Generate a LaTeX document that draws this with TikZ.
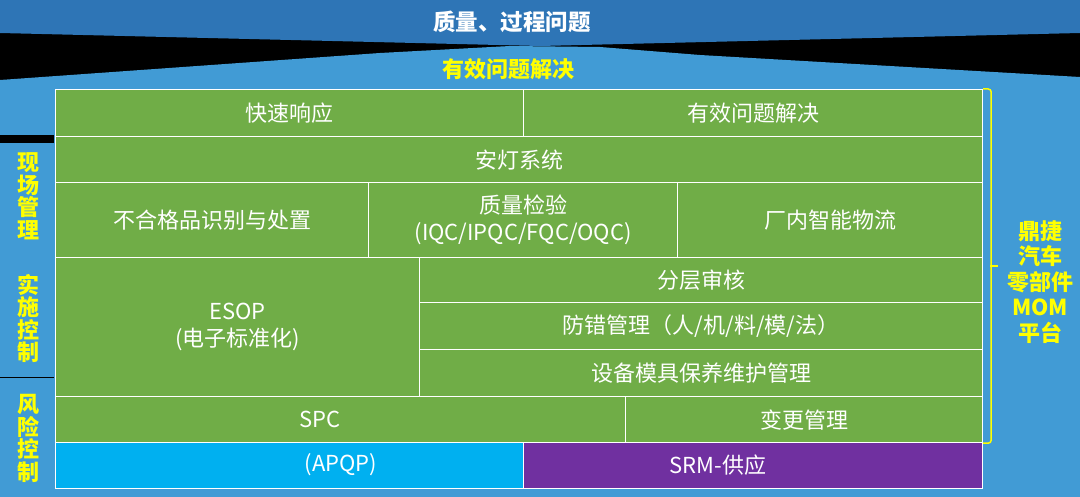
\documentclass[tikz,border=0pt]{standalone}
\usepackage{fontspec}
\setmainfont{Noto Sans CJK SC}
\usepackage{tikz}
\usetikzlibrary{calc}
\definecolor{qblack}{HTML}{000000}
\definecolor{qdark}{HTML}{2E75B6}
\definecolor{qlight}{HTML}{419BD5}
\definecolor{qgreen}{HTML}{70AD47}
\definecolor{qcyan}{HTML}{00B0F0}
\definecolor{qpurple}{HTML}{7030A0}
\definecolor{qyellow}{HTML}{FFFF00}
\tikzset{
    cell/.style={draw=white, line width=1.2pt, fill=qgreen, text=white, anchor=north west,
        inner sep=0pt, align=center, font=\fontsize{22}{27}\selectfont},
    cyancell/.style={cell, fill=qcyan},
    purplecell/.style={cell, fill=qpurple},
    celltext/.style={text=white, font=\fontsize{22}{27}\selectfont},
    sidelabel/.style={text=qyellow, align=center, font=\fontsize{22}{22.5}\selectfont\bfseries},
    platlabel/.style={text=qyellow, align=center, font=\fontsize{22}{25.5}\selectfont\bfseries},
    bracket/.style={draw=qyellow, line width=1.5pt, rounded corners=3pt},
}
\begin{document}
\begin{tikzpicture}[x=1pt, y=-1pt]
	\useasboundingbox (0,0) rectangle (1080,497);
	\fill[qblack] (0,0) rectangle (1080,497);
	% roof bands
	\fill[qdark] (0,0) -- (1080,0) -- (1080,33) -- (540,46) -- (0,33) -- cycle;
	\fill[qlight] (0,80) -- (380,53) -- (510,46) -- (600,47) -- (700,55) -- (1080,77)
		-- (1080,497) -- (0,497) -- cycle;
	\node[text=white, font=\fontsize{22.5}{27}\selectfont\bfseries] (issue) at (512,22) {质量、过程问题};
	\node[text=qyellow, font=\fontsize{22}{27}\selectfont\bfseries] (solve) at (508,69) {有效问题解决};
	%
	% left column separators
	\fill[qblack] (0,135) rectangle (54,143);
	\draw[qblack, line width=0.8pt] (0,377) -- (54,377);
	\foreach \y/\txt/\nm in {196.5/现\\场\\管\\理/site, 318.5/实\\施\\控\\制/exec, 438.5/风\\险\\控\\制/risk}
		\node[sidelabel] (\nm) at (28,\y) {\txt};
	%
	% grid
	\node[cell, minimum width=468, minimum height=47] (respond) at (55,89) {快速响应};
	\node[cell, minimum width=459, minimum height=47] (resolve) at (523,89) {有效问题解决};
	\node[cell, minimum width=927, minimum height=46] (andon) at (55,136) {安灯系统};
	\node[cell, minimum width=313, minimum height=75] (ncr) at (55,182) {不合格品识别与处置};
	\node[cell, minimum width=309, minimum height=75] (inspect) at (368,182) {质量检验\\(IQC/IPQC/FQC/OQC)};
	\node[cell, minimum width=305, minimum height=75] (logistics) at (677,182) {厂内智能物流};
	\node[cell, minimum width=364, minimum height=139] (esop) at (55,257) {ESOP\\(电子标准化)};
	\node[cell, minimum width=563, minimum height=45] (audit) at (419,257) {分层审核};
	\node[cell, minimum width=563, minimum height=47] (poka) at (419,302) {防错管理（人/机/料/模/法）};
	\node[cell, minimum width=563, minimum height=47] (tpm) at (419,349) {设备模具保养维护管理};
	\node[cell, minimum width=570, minimum height=46] (spc) at (55,396) {};
	\node[celltext] (spctext) at (320,419) {SPC};
	\node[cell, minimum width=357, minimum height=46] (change) at (625,396) {变更管理};
	\node[cyancell, minimum width=468, minimum height=46] (apqp) at (55,442) {};
	\node[celltext] (apqptext) at (341,465) {(APQP)};
	\node[purplecell, minimum width=459, minimum height=46] (srm) at (523,442) {};
	\node[celltext] (srmtext) at (718,465) {SRM-供应};
	%
	% platform bracket
	\coordinate (tip) at (990,266);
	\draw[bracket] (resolve.north east) -- ++(8,0) |- (change.south east);
	\draw[bracket] (tip) -- ++(8,0);
	\node[platlabel] (mom) at (1040,282) {鼎捷\\汽车\\零部件\\MOM\\平台};
\end{tikzpicture}
\end{document}
